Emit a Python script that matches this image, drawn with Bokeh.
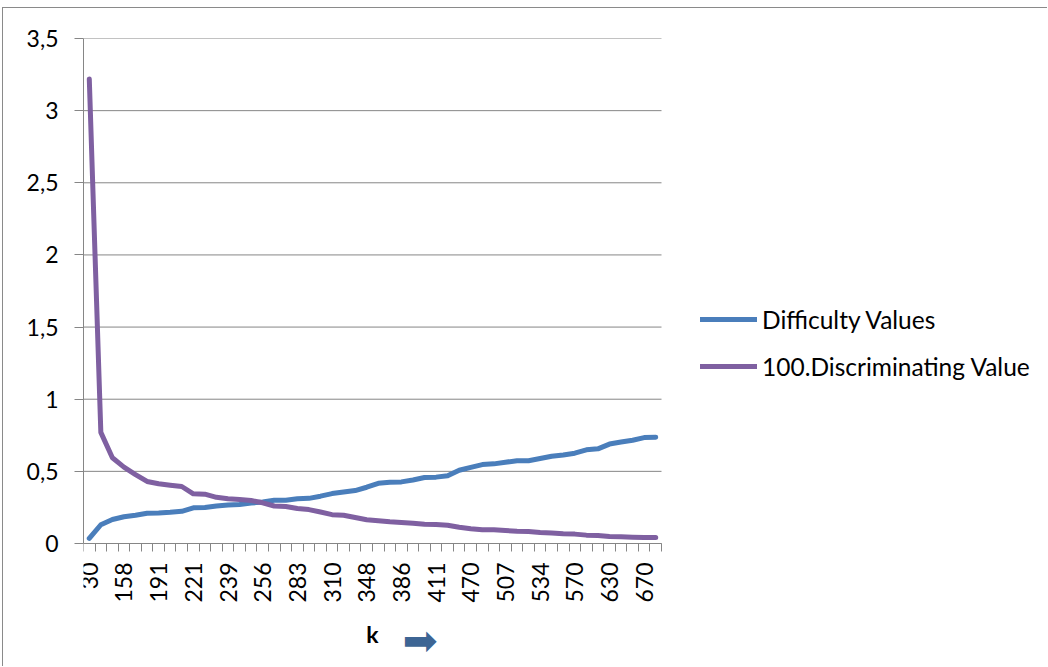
import math
from bokeh.plotting import figure
from bokeh.models import (Range1d, FixedTicker, CustomJSTickFormatter, Legend, Label)
from bokeh.embed import file_html
from bokeh.resources import INLINE

# ---- data ----
k_labels = ["30", "158", "191", "221", "239", "256", "283", "310", "348",
            "386", "411", "470", "507", "534", "570", "630", "670"]
label_step = 3

difficulty_values = [
    0.035, 0.13, 0.166, 0.185, 0.196, 0.21, 0.212, 0.216, 0.223, 0.247,
    0.25, 0.26, 0.267, 0.27, 0.28, 0.287, 0.30, 0.30, 0.31, 0.313,
    0.328, 0.346, 0.357, 0.367, 0.39, 0.417, 0.425, 0.427, 0.44, 0.457,
    0.46, 0.47, 0.508, 0.528, 0.547, 0.552, 0.563, 0.574, 0.574, 0.589,
    0.605, 0.614, 0.626, 0.649, 0.656, 0.689, 0.703, 0.716, 0.734, 0.737,
]
discriminating_values = [
    3.22, 0.77, 0.594, 0.529, 0.478, 0.43, 0.414, 0.404, 0.395, 0.344,
    0.342, 0.32, 0.31, 0.305, 0.298, 0.282, 0.26, 0.256, 0.242, 0.235,
    0.218, 0.2, 0.196, 0.18, 0.165, 0.157, 0.15, 0.146, 0.141, 0.134,
    0.132, 0.127, 0.113, 0.102, 0.095, 0.095, 0.09, 0.085, 0.083, 0.076,
    0.072, 0.067, 0.065, 0.058, 0.055, 0.049, 0.046, 0.044, 0.042, 0.042,
]
series_names = ["Difficulty Values", "100.Discriminating Value"]
series_colors = ["#4a7ebb", "#7f60a1"]
y_ticks = [0, 0.5, 1, 1.5, 2, 2.5, 3, 3.5]
y_max = 3.5

n = len(difficulty_values)
xs = [i + 0.5 for i in range(n)]

# ---- layout (pixels) ----
W, H = 1045, 659            # figure size (page margin + border take the rest)
LEFT, TOP = 80, 30          # space for the y axis / above the plot area
PLOT_W, PLOT_H = 578, 505   # the chart's own axis area
px_x = PLOT_W / n
px_y = PLOT_H / y_max
x_end = (W - LEFT) / px_x
y_start = -(H - TOP - PLOT_H) / px_y

FONT = "Lato"
GRAY = "#868686"

p = figure(width=W, height=H, output_backend="svg", toolbar_location=None,
           x_range=Range1d(0, x_end), y_range=Range1d(y_start, y_max),
           min_border_left=LEFT, min_border_right=0, min_border_top=TOP,
           min_border_bottom=0)
p.styles = {"margin-left": "2px", "margin-top": "7px",
            "border-left": "1px solid #8a8a8a", "border-top": "1px solid #8a8a8a"}
p.outline_line_color = None
p.background_fill_color = "white"
p.border_fill_color = "white"
p.xgrid.visible = False
p.ygrid.visible = False

# horizontal grid lines, limited to the chart area
p.segment(x0=[0] * len(y_ticks), y0=y_ticks, x1=[n] * len(y_ticks), y1=y_ticks,
          line_color=GRAY, line_width=1)

renderers = []
for vals, color in zip([difficulty_values, discriminating_values], series_colors):
    r = p.line(xs, vals, line_color=color, line_width=5,
               line_join="round", line_cap="round")
    renderers.append(r)

# y axis
p.yaxis.bounds = (0, y_max)
p.yaxis.ticker = FixedTicker(ticks=y_ticks)
p.yaxis.formatter = CustomJSTickFormatter(code="return tick.toString().replace('.', ',');")
p.yaxis.axis_line_color = GRAY
p.yaxis.major_tick_line_color = GRAY
p.yaxis.major_tick_out = 9
p.yaxis.major_tick_in = 0
p.yaxis.minor_tick_line_color = None
p.yaxis.major_label_text_font = FONT
p.yaxis.major_label_text_font_size = "23px"
p.yaxis.major_label_text_color = "black"
p.yaxis.major_label_standoff = 16

# x axis (drawn at y = 0 inside the extended frame)
label_ticks = [i * label_step + 0.5 for i in range(len(k_labels))]
p.xaxis.fixed_location = 0
p.xaxis.bounds = (0, n)
p.xaxis.ticker = FixedTicker(ticks=label_ticks, minor_ticks=list(range(n + 1)))
p.xaxis.formatter = CustomJSTickFormatter(
    args=dict(labels=k_labels, step=label_step),
    code="return labels[Math.round((tick - 0.5) / step)];")
p.xaxis.major_label_orientation = math.pi / 2
p.xaxis.axis_line_color = GRAY
p.xaxis.major_tick_line_color = None
p.xaxis.major_tick_out = 8
p.xaxis.major_tick_in = 0
p.xaxis.minor_tick_line_color = GRAY
p.xaxis.minor_tick_out = 8
p.xaxis.minor_tick_in = 0
p.xaxis.major_label_text_font = FONT
p.xaxis.major_label_text_font_size = "23px"
p.xaxis.major_label_text_color = "black"
p.xaxis.major_label_standoff = 11
p.xaxis.axis_label = "k"
p.xaxis.axis_label_text_font = FONT
p.xaxis.axis_label_text_font_size = "23px"
p.xaxis.axis_label_text_font_style = "bold"
p.xaxis.axis_label_text_color = "black"
p.xaxis.axis_label_standoff = 14

# decorative arrow next to the axis title
p.add_layout(Label(x=27.6, y=-0.675, text="\u27a1", text_font="DejaVu Sans",
                   text_font_size="42px", text_color="#3d6594",
                   text_baseline="middle", text_align="left"))

legend = Legend(items=[(name, [r]) for name, r in zip(series_names, renderers)],
                location=(617, 286))
legend.label_text_font = FONT
legend.label_text_font_size = "24.5px"
legend.label_text_color = "black"
legend.glyph_width = 57
legend.glyph_height = 30
legend.label_height = 30
legend.label_standoff = 5
legend.spacing = 17
legend.padding = 0
legend.margin = 0
legend.border_line_color = None
legend.background_fill_alpha = 0
p.add_layout(legend, "center")

open("out.html", "w").write(file_html(p, INLINE))
